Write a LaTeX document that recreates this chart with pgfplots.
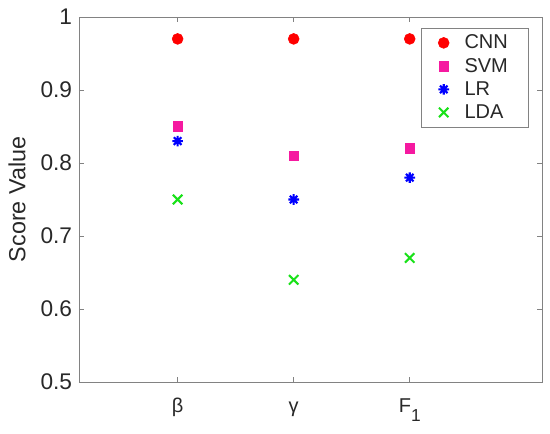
\documentclass[border=0pt]{standalone}
\usepackage{fontspec}
\setmainfont{Liberation Sans}
\usepackage{pgfplots}
\pgfplotsset{compat=1.18}
\definecolor{axgray}{RGB}{130,130,130}
\definecolor{txtgray}{RGB}{40,40,40}
\definecolor{svmpink}{RGB}{245,25,160}
\definecolor{ldagreen}{RGB}{25,225,25}

% MATLAB style '*' marker: eight arms
\pgfdeclareplotmark{matstar}{%
  \pgfpathmoveto{\pgfqpoint{0pt}{\pgfplotmarksize}}%
  \pgfpathlineto{\pgfqpoint{0pt}{-\pgfplotmarksize}}%
  \pgfpathmoveto{\pgfqpoint{\pgfplotmarksize}{0pt}}%
  \pgfpathlineto{\pgfqpoint{-\pgfplotmarksize}{0pt}}%
  \pgfpathmoveto{\pgfqpoint{0.7071\pgfplotmarksize}{0.7071\pgfplotmarksize}}%
  \pgfpathlineto{\pgfqpoint{-0.7071\pgfplotmarksize}{-0.7071\pgfplotmarksize}}%
  \pgfpathmoveto{\pgfqpoint{-0.7071\pgfplotmarksize}{0.7071\pgfplotmarksize}}%
  \pgfpathlineto{\pgfqpoint{0.7071\pgfplotmarksize}{-0.7071\pgfplotmarksize}}%
  \pgfusepathqstroke}

\newcommand{\lent}[1]{\hspace{4.5pt}#1\hspace{-7pt}}

\begin{document}
\begin{tikzpicture}
\useasboundingbox (-59.25pt,-39pt) rectangle (353.25pt,286.5pt);
\begin{axis}[
    scale only axis,
    width=347.25pt, height=273.75pt,
    xmin=0.15, xmax=4.14,
    ymin=0.5, ymax=1,
    xtick={1,2,3},
    xticklabels={β, γ, F\raisebox{-0.45em}{\fontsize{13}{13}\selectfont 1}},
    ytick={0.5,0.6,0.7,0.8,0.9,1},
    yticklabels={0.5,0.6,0.7,0.8,0.9,1},
    tick align=inside,
    major tick length=4pt,
    axis line style={axgray},
    every tick/.style={axgray},
    xticklabel style={font=\fontsize{15}{15}\selectfont, text=txtgray,
        anchor=base, inner sep=0pt, yshift=-23pt},
    yticklabel style={font=\fontsize{17}{17}\selectfont, text=txtgray,
        anchor=east, inner sep=0pt, xshift=-5pt},
    ylabel={Score Value},
    every axis y label/.style={at={(axis description cs:-0.134,0.5)},
        rotate=90, anchor=center},
    ylabel style={font=\fontsize{17.5}{17.5}\selectfont, text=txtgray},
    legend style={
        at={(0.97,0.97)}, anchor=north east,
        draw=axgray, fill=white,
        font=\fontsize{15}{18}\selectfont, text=txtgray,
        row sep=1.5pt, column sep=5pt, inner xsep=13pt, inner ysep=3pt,
    },
    legend cell align=left,
]
\addplot[only marks, mark=*, mark size=4.1pt, red] coordinates {(1,0.97) (2,0.97) (3,0.97)};
\addlegendentry{\lent{CNN}}
\addplot[only marks, mark=square*, mark size=3.6pt, svmpink] coordinates {(1,0.85) (2,0.81) (3,0.82)};
\addlegendentry{\lent{SVM}}
\addplot[only marks, mark=matstar, mark size=4pt, line width=1.6pt, blue] coordinates {(1,0.83) (2,0.75) (3,0.78)};
\addlegendentry{\lent{LR}}
\addplot[only marks, mark=x, mark size=5pt, line width=1.5pt, ldagreen] coordinates {(1,0.75) (2,0.64) (3,0.67)};
\addlegendentry{\lent{LDA}}
\end{axis}
\end{tikzpicture}
\end{document}
